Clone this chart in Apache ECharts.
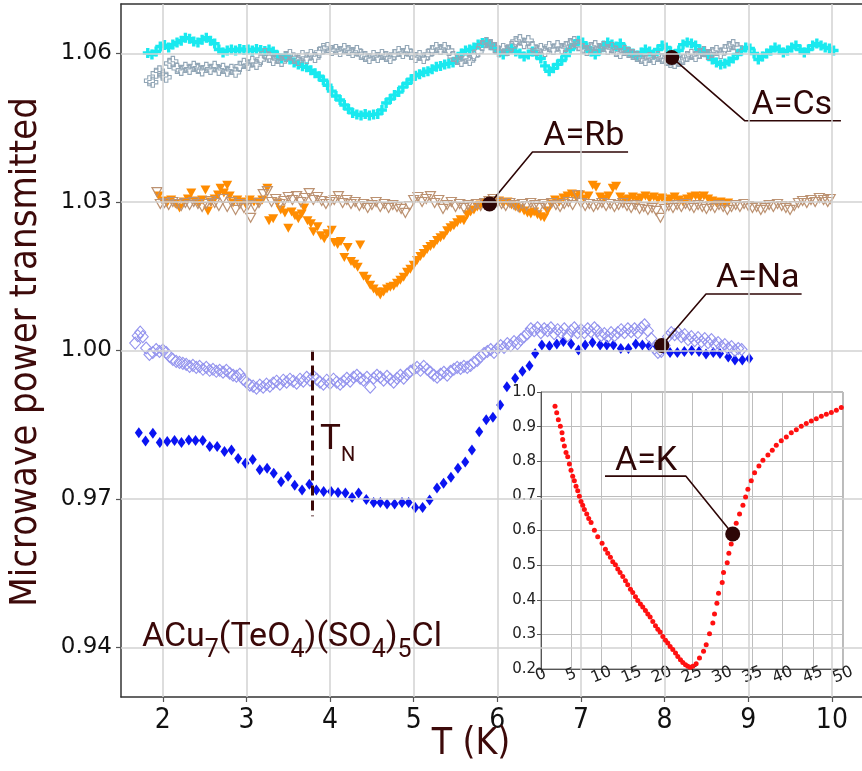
<!DOCTYPE html>
<html>
<head>
<meta charset="utf-8">
<script src="https://cdn.jsdelivr.net/npm/echarts@6/dist/echarts.min.js"></script>
<style>
  html, body { margin: 0; padding: 0; background: #fff; }
  #chart { width: 862px; height: 771px; }
</style>
</head>
<body>
<div id="chart"></div>
<script>
// tick labels
const xTicks = [2, 3, 4, 5, 6, 7, 8, 9, 10];
const yTicks = [0.94, 0.97, 1.00, 1.03, 1.06];

// A=Cs, filled crosses
const csFilled = [
  [1.82,1.0601],[1.87,1.0598],[1.92,1.0604],[1.97,1.0614],[2.02,1.0617],[2.07,1.0612],[2.12,1.0618],[2.17,1.0622],
  [2.22,1.0626],[2.27,1.0632],[2.32,1.0630],[2.37,1.0624],[2.42,1.0622],[2.47,1.0628],[2.52,1.0632],[2.57,1.0626],
  [2.62,1.0620],[2.67,1.0608],[2.72,1.0602],[2.77,1.0606],[2.82,1.0608],[2.87,1.0606],[2.92,1.0609],[2.97,1.0607],
  [3.02,1.0608],[3.07,1.0606],[3.12,1.0609],[3.17,1.0607],[3.22,1.0605],[3.27,1.0608],[3.32,1.0604],[3.37,1.0596],
  [3.42,1.0590],[3.47,1.0594],[3.52,1.0588],[3.57,1.0582],[3.62,1.0578],[3.67,1.0574],[3.72,1.0572],[3.77,1.0566],
  [3.82,1.0560],[3.87,1.0554],[3.92,1.0546],[3.97,1.0536],[4.02,1.0524],[4.07,1.0514],[4.12,1.0506],[4.17,1.0496],
  [4.22,1.0488],[4.27,1.0480],[4.32,1.0477],[4.37,1.0475],[4.42,1.0478],[4.47,1.0475],[4.52,1.0477],[4.57,1.0478],
  [4.62,1.0486],[4.67,1.0500],[4.72,1.0508],[4.77,1.0516],[4.82,1.0522],[4.87,1.0532],[4.92,1.0540],[4.97,1.0548],
  [5.02,1.0555],[5.07,1.0558],[5.12,1.0562],[5.17,1.0564],[5.22,1.0568],[5.27,1.0573],[5.32,1.0575],[5.37,1.0578],
  [5.42,1.0580],[5.47,1.0582],[5.52,1.0590],[5.57,1.0600],[5.62,1.0606],[5.67,1.0608],[5.72,1.0612],[5.77,1.0618],
  [5.82,1.0621],[5.87,1.0622],[5.92,1.0618],[5.97,1.0610],[6.02,1.0602],[6.07,1.0598],[6.12,1.0606],[6.17,1.0610],
  [6.22,1.0604],[6.27,1.0600],[6.32,1.0594],[6.37,1.0598],[6.42,1.0604],[6.47,1.0598],[6.52,1.0590],[6.57,1.0575],
  [6.62,1.0564],[6.67,1.0570],[6.72,1.0578],[6.77,1.0586],[6.82,1.0596],[6.87,1.0608],[6.92,1.0618],[6.97,1.0626],
  [7.02,1.0622],[7.07,1.0612],[7.12,1.0604],[7.17,1.0598],[7.22,1.0606],[7.27,1.0616],[7.32,1.0622],[7.37,1.0618],
  [7.42,1.0614],[7.47,1.0620],[7.52,1.0610],[7.57,1.0604],[7.62,1.0600],[7.67,1.0596],[7.72,1.0602],[7.77,1.0608],
  [7.82,1.0604],[7.87,1.0598],[7.92,1.0608],[7.97,1.0616],[8.02,1.0612],[8.07,1.0604],[8.12,1.0598],[8.17,1.0606],
  [8.22,1.0618],[8.27,1.0622],[8.32,1.0620],[8.37,1.0616],[8.42,1.0608],[8.47,1.0604],[8.52,1.0596],[8.57,1.0588],
  [8.62,1.0582],[8.67,1.0578],[8.72,1.0580],[8.77,1.0584],[8.82,1.0590],[8.87,1.0598],[8.92,1.0606],[8.97,1.0612],
  [9.02,1.0610],[9.07,1.0600],[9.12,1.0588],[9.17,1.0594],[9.22,1.0600],[9.27,1.0606],[9.32,1.0612],[9.37,1.0608],
  [9.42,1.0602],[9.47,1.0606],[9.52,1.0612],[9.57,1.0616],[9.62,1.0608],[9.67,1.0602],[9.72,1.0608],[9.77,1.0616],
  [9.82,1.0620],[9.87,1.0616],[9.92,1.0612],[9.97,1.0610],[10.02,1.0606]
];

// A=Cs, open crosses
const csOpen = [
  [1.84,1.0545],[1.88,1.0542],[1.92,1.0560],[1.96,1.0565],[2.00,1.0556],[2.04,1.0552],[2.08,1.0580],[2.12,1.0584],
  [2.17,1.0570],[2.22,1.0566],[2.27,1.0572],[2.32,1.0568],[2.37,1.0574],[2.42,1.0570],[2.47,1.0565],[2.52,1.0572],
  [2.57,1.0568],[2.62,1.0574],[2.67,1.0566],[2.72,1.0570],[2.77,1.0564],[2.82,1.0568],[2.87,1.0562],[2.92,1.0574],
  [2.97,1.0580],[3.02,1.0576],[3.07,1.0584],[3.12,1.0578],[3.17,1.0588],[3.22,1.0600],[3.27,1.0592],[3.32,1.0586],
  [3.37,1.0590],[3.42,1.0584],[3.47,1.0594],[3.52,1.0598],[3.57,1.0590],[3.62,1.0586],[3.67,1.0596],[3.72,1.0590],
  [3.77,1.0598],[3.82,1.0592],[3.87,1.0602],[3.92,1.0610],[3.97,1.0612],[4.02,1.0606],[4.07,1.0608],[4.12,1.0604],
  [4.17,1.0610],[4.22,1.0606],[4.27,1.0602],[4.32,1.0606],[4.37,1.0598],[4.42,1.0594],[4.47,1.0590],[4.52,1.0596],
  [4.57,1.0592],[4.62,1.0598],[4.67,1.0594],[4.72,1.0590],[4.77,1.0598],[4.82,1.0604],[4.87,1.0600],[4.92,1.0606],
  [4.97,1.0598],[5.02,1.0592],[5.07,1.0596],[5.12,1.0590],[5.17,1.0598],[5.22,1.0606],[5.27,1.0612],[5.32,1.0608],
  [5.37,1.0612],[5.42,1.0606],[5.47,1.0594],[5.52,1.0588],[5.57,1.0584],[5.62,1.0590],[5.67,1.0586],[5.72,1.0596],
  [5.77,1.0604],[5.82,1.0616],[5.87,1.0622],[5.92,1.0618],[5.97,1.0612],[6.02,1.0604],[6.07,1.0610],[6.12,1.0606],
  [6.17,1.0614],[6.22,1.0624],[6.27,1.0628],[6.32,1.0620],[6.37,1.0626],[6.42,1.0614],[6.47,1.0606],[6.52,1.0610],
  [6.57,1.0604],[6.62,1.0614],[6.67,1.0608],[6.72,1.0616],[6.77,1.0610],[6.82,1.0614],[6.87,1.0620],[6.92,1.0624],
  [6.97,1.0616],[7.02,1.0610],[7.07,1.0606],[7.12,1.0612],[7.17,1.0616],[7.22,1.0610],[7.27,1.0614],[7.32,1.0608],
  [7.37,1.0612],[7.42,1.0604],[7.47,1.0600],[7.52,1.0606],[7.57,1.0602],[7.62,1.0598],[7.67,1.0594],[7.72,1.0590],
  [7.77,1.0586],[7.82,1.0592],[7.87,1.0588],[7.92,1.0594],[7.97,1.0590],[8.02,1.0586],[8.07,1.0582],[8.12,1.0580],
  [8.17,1.0584],[8.22,1.0588],[8.27,1.0594],[8.32,1.0598],[8.37,1.0594],[8.42,1.0600],[8.47,1.0604],[8.52,1.0598],
  [8.57,1.0602],[8.62,1.0606],[8.67,1.0600],[8.72,1.0608],[8.77,1.0614],[8.82,1.0618],[8.87,1.0612]
];

// A=Rb, filled triangles
const rbFilled = [
  [1.95,1.0312],[2.00,1.0302],[2.05,1.0298],[2.10,1.0304],[2.15,1.0296],[2.20,1.0288],[2.25,1.0300],[2.30,1.0306],
  [2.34,1.0318],[2.38,1.0302],[2.43,1.0296],[2.47,1.0304],[2.51,1.0324],[2.54,1.0282],[2.58,1.0300],[2.62,1.0306],
  [2.66,1.0314],[2.69,1.0328],[2.73,1.0318],[2.77,1.0334],[2.80,1.0312],[2.84,1.0298],[2.89,1.0304],[2.94,1.0300],
  [2.99,1.0296],[3.04,1.0304],[3.09,1.0300],[3.14,1.0298],[3.19,1.0304],[3.25,1.0328],[3.27,1.0262],[3.32,1.0266],
  [3.37,1.0298],[3.41,1.0284],[3.46,1.0278],[3.50,1.0247],[3.54,1.0280],[3.58,1.0272],[3.62,1.0266],[3.66,1.0276],
  [3.69,1.0288],[3.73,1.0262],[3.77,1.0256],[3.80,1.0240],[3.85,1.0250],[3.89,1.0232],[3.93,1.0226],[3.97,1.0236],
  [4.02,1.0243],[4.05,1.0218],[4.09,1.0214],[4.13,1.0220],[4.17,1.0188],[4.21,1.0208],[4.25,1.0180],[4.29,1.0174],
  [4.33,1.0168],[4.36,1.0213],[4.40,1.0150],[4.44,1.0144],[4.48,1.0132],[4.52,1.0124],[4.56,1.0118],[4.60,1.0112],
  [4.64,1.0118],[4.68,1.0124],[4.72,1.0128],[4.76,1.0130],[4.80,1.0136],[4.84,1.0142],[4.88,1.0148],[4.92,1.0158],
  [4.96,1.0164],[5.00,1.0172],[5.04,1.0182],[5.08,1.0190],[5.12,1.0196],[5.16,1.0204],[5.20,1.0210],[5.24,1.0214],
  [5.28,1.0222],[5.32,1.0228],[5.36,1.0232],[5.40,1.0242],[5.44,1.0248],[5.48,1.0252],[5.52,1.0258],[5.56,1.0264],
  [5.60,1.0262],[5.64,1.0274],[5.68,1.0280],[5.72,1.0284],[5.76,1.0290],[5.80,1.0294],[5.84,1.0298],[5.88,1.0296],
  [5.92,1.0300],[5.97,1.0298],[6.02,1.0302],[6.07,1.0296],[6.12,1.0300],[6.17,1.0294],[6.22,1.0290],[6.27,1.0286],
  [6.32,1.0282],[6.36,1.0278],[6.40,1.0276],[6.44,1.0280],[6.48,1.0274],[6.52,1.0270],[6.56,1.0268],[6.60,1.0282],
  [6.64,1.0296],[6.69,1.0304],[6.74,1.0300],[6.79,1.0308],[6.84,1.0312],[6.89,1.0316],[6.94,1.0310],[6.99,1.0314],
  [7.04,1.0306],[7.09,1.0312],[7.14,1.0334],[7.18,1.0330],[7.23,1.0310],[7.28,1.0306],[7.33,1.0312],[7.38,1.0328],
  [7.42,1.0332],[7.47,1.0310],[7.52,1.0304],[7.57,1.0306],[7.62,1.0310],[7.67,1.0304],[7.72,1.0308],[7.77,1.0312],
  [7.82,1.0306],[7.87,1.0310],[7.92,1.0304],[7.97,1.0308],[8.02,1.0302],[8.07,1.0306],[8.12,1.0310],[8.17,1.0304],
  [8.22,1.0300],[8.27,1.0306],[8.32,1.0310],[8.37,1.0312],[8.42,1.0308],[8.47,1.0312],[8.52,1.0306],[8.57,1.0302],
  [8.62,1.0298],[8.67,1.0300],[8.72,1.0296],[8.76,1.0298]
];

// A=Rb, open triangles
const rbOpen = [
  [1.93,1.0320],[1.97,1.0296],[2.02,1.0298],[2.07,1.0294],[2.12,1.0300],[2.17,1.0296],[2.22,1.0292],[2.27,1.0298],
  [2.32,1.0294],[2.37,1.0300],[2.42,1.0296],[2.47,1.0290],[2.52,1.0296],[2.57,1.0302],[2.62,1.0298],[2.67,1.0292],
  [2.72,1.0306],[2.77,1.0290],[2.82,1.0300],[2.87,1.0284],[2.92,1.0296],[2.97,1.0288],[3.02,1.0294],[3.05,1.0268],
  [3.10,1.0290],[3.15,1.0298],[3.20,1.0316],[3.25,1.0322],[3.30,1.0300],[3.35,1.0306],[3.40,1.0296],[3.45,1.0302],
  [3.50,1.0310],[3.55,1.0304],[3.60,1.0312],[3.65,1.0300],[3.70,1.0308],[3.75,1.0318],[3.80,1.0304],[3.85,1.0310],
  [3.90,1.0302],[3.95,1.0296],[4.00,1.0300],[4.05,1.0304],[4.10,1.0312],[4.15,1.0298],[4.20,1.0304],[4.25,1.0296],
  [4.30,1.0300],[4.35,1.0292],[4.40,1.0296],[4.45,1.0288],[4.50,1.0294],[4.55,1.0300],[4.60,1.0290],[4.65,1.0296],
  [4.70,1.0288],[4.75,1.0294],[4.80,1.0290],[4.85,1.0286],[4.90,1.0278],[4.95,1.0292],[5.00,1.0304],[5.05,1.0310],
  [5.10,1.0300],[5.15,1.0306],[5.20,1.0312],[5.25,1.0298],[5.30,1.0304],[5.35,1.0286],[5.40,1.0294],[5.45,1.0300],
  [5.50,1.0290],[5.55,1.0296],[5.60,1.0288],[5.65,1.0294],[5.70,1.0290],[5.75,1.0296],[5.80,1.0292],[5.85,1.0298],
  [5.90,1.0302],[5.95,1.0306],[6.00,1.0300],[6.05,1.0296],[6.10,1.0292],[6.15,1.0298],[6.20,1.0294],[6.25,1.0290],
  [6.30,1.0296],[6.35,1.0292],[6.40,1.0298],[6.45,1.0294],[6.50,1.0288],[6.55,1.0296],[6.60,1.0292],[6.65,1.0298],
  [6.70,1.0294],[6.75,1.0290],[6.80,1.0296],[6.85,1.0300],[6.90,1.0294],[6.96,1.0314],[7.00,1.0298],[7.05,1.0292],
  [7.10,1.0296],[7.15,1.0290],[7.20,1.0294],[7.25,1.0298],[7.30,1.0292],[7.35,1.0296],[7.40,1.0290],[7.45,1.0294],
  [7.50,1.0298],[7.55,1.0292],[7.60,1.0288],[7.65,1.0294],[7.70,1.0286],[7.75,1.0290],[7.80,1.0284],[7.85,1.0288],
  [7.90,1.0282],[7.95,1.0268],[8.00,1.0286],[8.05,1.0292],[8.10,1.0288],[8.15,1.0294],[8.20,1.0290],[8.25,1.0296],
  [8.30,1.0292],[8.35,1.0288],[8.40,1.0294],[8.45,1.0290],[8.50,1.0286],[8.55,1.0292],[8.60,1.0288],[8.65,1.0294],
  [8.70,1.0290],[8.75,1.0284],[8.80,1.0290],[8.85,1.0294],[8.90,1.0290],[8.95,1.0296],[9.00,1.0292],[9.05,1.0288],
  [9.10,1.0290],[9.15,1.0284],[9.20,1.0288],[9.25,1.0294],[9.30,1.0290],[9.35,1.0296],[9.40,1.0292],[9.45,1.0288],
  [9.50,1.0284],[9.55,1.0292],[9.60,1.0298],[9.65,1.0302],[9.70,1.0298],[9.75,1.0304],[9.80,1.0300],[9.85,1.0308],
  [9.90,1.0304],[9.95,1.0300],[9.98,1.0306]
];

// A=Na, open diamonds
const naOpen = [
  [1.67,1.0015],[1.70,1.0030],[1.73,1.0037],[1.76,1.0028],[1.80,1.0005],[1.84,0.9992],[1.88,0.9996],[1.92,1.0002],
  [1.96,0.9998],[2.00,1.0001],[2.04,0.9996],[2.08,0.9988],[2.12,0.9982],[2.16,0.9978],[2.20,0.9976],[2.24,0.9974],
  [2.28,0.9972],[2.32,0.9968],[2.36,0.9970],[2.40,0.9966],[2.44,0.9968],[2.48,0.9962],[2.52,0.9966],[2.56,0.9960],
  [2.60,0.9962],[2.64,0.9958],[2.68,0.9960],[2.72,0.9956],[2.76,0.9960],[2.80,0.9954],[2.84,0.9950],[2.88,0.9948],
  [2.92,0.9952],[2.96,0.9942],[3.00,0.9936],[3.04,0.9930],[3.08,0.9928],[3.12,0.9924],[3.16,0.9930],[3.20,0.9926],
  [3.24,0.9932],[3.28,0.9928],[3.32,0.9934],[3.36,0.9938],[3.40,0.9932],[3.44,0.9940],[3.48,0.9936],[3.52,0.9942],
  [3.56,0.9938],[3.60,0.9934],[3.64,0.9942],[3.68,0.9938],[3.72,0.9946],[3.76,0.9940],[3.80,0.9948],[3.84,0.9942],
  [3.88,0.9936],[3.92,0.9932],[3.96,0.9940],[4.00,0.9934],[4.04,0.9942],[4.08,0.9936],[4.12,0.9932],[4.16,0.9938],
  [4.20,0.9944],[4.24,0.9938],[4.28,0.9946],[4.32,0.9950],[4.36,0.9944],[4.40,0.9940],[4.44,0.9946],[4.48,0.9926],
  [4.52,0.9944],[4.56,0.9950],[4.60,0.9946],[4.64,0.9940],[4.68,0.9948],[4.72,0.9942],[4.76,0.9936],[4.80,0.9944],
  [4.84,0.9950],[4.88,0.9944],[4.92,0.9952],[4.96,0.9958],[5.00,0.9962],[5.04,0.9966],[5.08,0.9960],[5.12,0.9968],
  [5.16,0.9962],[5.20,0.9956],[5.24,0.9950],[5.28,0.9946],[5.32,0.9952],[5.36,0.9956],[5.40,0.9950],[5.44,0.9958],
  [5.48,0.9962],[5.52,0.9966],[5.56,0.9964],[5.60,0.9968],[5.64,0.9966],[5.68,0.9970],[5.72,0.9976],[5.76,0.9980],
  [5.80,0.9988],[5.84,0.9994],[5.88,0.9998],[5.92,1.0002],[5.96,0.9996],[6.00,1.0004],[6.04,1.0010],[6.08,1.0006],
  [6.12,1.0014],[6.16,1.0010],[6.20,1.0018],[6.24,1.0014],[6.28,1.0022],[6.32,1.0028],[6.36,1.0034],[6.40,1.0044],
  [6.44,1.0040],[6.48,1.0046],[6.52,1.0036],[6.56,1.0044],[6.60,1.0040],[6.64,1.0046],[6.68,1.0034],[6.72,1.0042],
  [6.76,1.0036],[6.80,1.0044],[6.84,1.0030],[6.88,1.0040],[6.92,1.0046],[6.96,1.0036],[7.00,1.0042],[7.04,1.0036],
  [7.08,1.0044],[7.12,1.0038],[7.16,1.0046],[7.20,1.0040],[7.24,1.0030],[7.28,1.0034],[7.32,1.0028],[7.36,1.0036],
  [7.40,1.0030],[7.44,1.0036],[7.48,1.0042],[7.52,1.0036],[7.56,1.0044],[7.60,1.0038],[7.64,1.0044],[7.68,1.0036],
  [7.72,1.0046],[7.76,1.0052],[7.80,1.0040],[7.84,1.0024],[7.88,1.0004],[7.92,0.9996],[7.96,0.9998],[8.00,1.0010],
  [8.04,1.0028],[8.08,1.0036],[8.12,1.0032],[8.16,1.0036],[8.20,1.0028],[8.24,1.0032],[8.28,1.0022],[8.32,1.0028],
  [8.36,1.0020],[8.40,1.0026],[8.44,1.0018],[8.48,1.0024],[8.52,1.0016],[8.56,1.0022],[8.60,1.0012],[8.64,1.0016],
  [8.68,1.0008],[8.72,1.0012],[8.76,1.0004],[8.80,1.0008],[8.84,1.0000],[8.88,1.0004],[8.92,1.0002]
];

// A=Na, filled diamonds
const naFilled = [
  [1.713,0.9834],[1.793,0.9817],[1.881,0.9833],[1.964,0.9814],[2.053,0.9816],[2.140,0.9818],[2.223,0.9814],[2.311,0.9819],
  [2.391,0.9818],[2.478,0.9818],[2.561,0.9806],[2.650,0.9806],[2.737,0.9796],[2.821,0.9799],[2.901,0.9782],[2.988,0.9772],
  [3.075,0.9780],[3.159,0.9759],[3.247,0.9762],[3.326,0.9752],[3.414,0.9735],[3.498,0.9746],[3.577,0.9728],[3.665,0.9718],
  [3.752,0.9730],[3.836,0.9718],[3.923,0.9715],[4.012,0.9715],[4.095,0.9713],[4.183,0.9712],[4.263,0.9703],[4.341,0.9712],
  [4.433,0.9699],[4.521,0.9693],[4.601,0.9693],[4.681,0.9690],[4.771,0.9690],[4.860,0.9693],[4.939,0.9693],[5.019,0.9683],
  [5.106,0.9683],[5.190,0.9698],[5.278,0.9722],[5.357,0.9732],[5.445,0.9744],[5.529,0.9762],[5.616,0.9775],[5.696,0.9799],
  [5.783,0.9836],[5.867,0.9860],[5.947,0.9865],[6.034,0.9890],[6.114,0.9927],[6.213,0.9944],[6.300,0.9958],[6.384,0.9969],
  [6.452,0.9994],[6.532,1.0011],[6.623,1.0009],[6.711,1.0013],[6.790,1.0018],[6.882,1.0013],[6.970,1.0001],[7.050,1.0011],
  [7.137,1.0016],[7.229,1.0011],[7.309,1.0011],[7.388,1.0011],[7.476,1.0004],[7.567,1.0004],[7.655,1.0013],[7.734,1.0011],
  [7.814,1.0009],[7.906,1.0008],[7.985,1.0003],[8.065,0.9996],[8.152,0.9996],[8.236,0.9998],[8.324,1.0000],[8.411,0.9998],
  [8.495,0.9993],[8.582,0.9996],[8.662,0.9994],[8.761,0.9987],[8.841,0.9981],[8.929,0.9981],[9.012,0.9984]
];

// inset, A=K
const kPoints = [
  [2.32,0.959],[2.60,0.940],[2.87,0.920],[3.20,0.901],[3.48,0.882],[3.59,0.863],[3.87,0.844],[4.14,0.825],
  [4.42,0.813],[4.70,0.792],[4.97,0.774],[5.25,0.757],[5.52,0.744],[5.80,0.728],[6.08,0.715],[6.35,0.699],
  [6.63,0.684],[6.91,0.673],[7.18,0.661],[7.57,0.648],[7.90,0.635],[8.29,0.623],[8.84,0.601],[9.39,0.582],
  [10.11,0.563],[10.66,0.546],[11.05,0.534],[11.49,0.523],[11.88,0.510],[12.32,0.501],[12.71,0.489],[13.09,0.479],
  [13.54,0.467],[13.98,0.455],[14.36,0.443],[14.81,0.430],[15.19,0.421],[15.64,0.409],[16.02,0.398],[16.46,0.388],
  [16.85,0.379],[17.29,0.369],[17.68,0.359],[18.07,0.350],[18.51,0.337],[18.95,0.325],[19.34,0.315],[19.72,0.307],
  [20.17,0.294],[20.61,0.283],[20.99,0.275],[21.38,0.265],[21.82,0.256],[22.27,0.246],[22.65,0.236],[23.09,0.227],
  [23.48,0.219],[23.92,0.212],[24.31,0.208],[24.70,0.205],[25.14,0.208],[25.69,0.215],[26.24,0.232],[26.91,0.251],
  [27.35,0.270],[27.90,0.302],[28.45,0.333],[28.73,0.359],[29.12,0.390],[29.39,0.419],[30.00,0.450],[30.22,0.479],
  [30.83,0.507],[31.10,0.534],[31.49,0.561],[32.32,0.621],[32.87,0.648],[33.43,0.673],[33.87,0.697],[34.25,0.719],
  [34.81,0.744],[35.36,0.767],[36.08,0.786],[36.74,0.803],[37.57,0.818],[38.29,0.832],[38.95,0.846],[39.78,0.859],
  [40.61,0.870],[41.44,0.882],[42.27,0.891],[43.09,0.901],[43.92,0.909],[44.75,0.916],[45.58,0.923],[46.41,0.930],
  [47.24,0.936],[48.07,0.941],[48.90,0.947],[49.72,0.955]
];

// annotations: dot, elbow, end of leader line, text anchor (left, baseline)
const notes = [
  { grid: 0, label: 'A=Cs', dot: [8.085, 1.0592], elbow: [8.96, 1.0464], end: [10.108, 1.0464], text: [9.04, 1.0476] },
  { grid: 0, label: 'A=Rb', dot: [5.906, 1.0296], elbow: [6.42, 1.0401], end: [7.563, 1.0401], text: [6.55, 1.0413] },
  { grid: 0, label: 'A=Na', dot: [7.966, 1.0010], elbow: [8.495, 1.0114], end: [9.638, 1.0114], text: [8.614, 1.0126] },
  { grid: 1, label: 'A=K', dot: [31.74, 0.59], elbow: [24.0, 0.757], end: [10.6, 0.757], text: [12.25, 0.772] }
];
const tnLine = [[3.79, 1.0], [3.79, 0.9665]];
const tnText = [3.88, 0.9799];
const formulaPos = [1.75, 0.9401];

const brown = '#2e0606';
const plusPath = 'path://M3.3,0H6.7V3.3H10V6.7H6.7V10H3.3V6.7H0V3.3H3.3Z';
const triPath = 'path://M0,0H10L5,9Z';

const chart = echarts.init(document.getElementById('chart'));

const series = [
  {
    // grid lines of the main panel
    type: 'line', xAxisIndex: 0, yAxisIndex: 0, data: [], z: 1,
    markLine: {
      silent: true, symbol: 'none', animation: false,
      label: { show: false },
      lineStyle: { color: '#d2d2d2', width: 1.5, type: 'solid' },
      data: xTicks.map(v => ({ xAxis: v })).concat(yTicks.map(v => ({ yAxis: v })))
    }
  },
  { type: 'scatter', data: csFilled, symbol: plusPath, symbolSize: 10,
    itemStyle: { color: '#19e9ef', opacity: 1 }, z: 2 },
  { type: 'scatter', data: csOpen, symbol: plusPath, symbolSize: 10,
    itemStyle: { color: 'rgba(255,255,255,0)', borderColor: '#92a6b6', borderWidth: 1.1, opacity: 1 }, z: 2 },
  { type: 'scatter', data: rbFilled, symbol: triPath, symbolSize: [10, 9],
    itemStyle: { color: '#ff8c00', opacity: 1 }, z: 2 },
  { type: 'scatter', data: rbOpen, symbol: triPath, symbolSize: [10, 9],
    itemStyle: { color: 'rgba(255,255,255,0)', borderColor: '#bc9272', borderWidth: 1.2, opacity: 1 }, z: 2 },
  { type: 'scatter', data: naFilled, symbol: 'diamond', symbolSize: [8, 11],
    itemStyle: { color: '#0a14f2', opacity: 1 }, z: 2 },
  { type: 'scatter', data: naOpen, symbol: 'diamond', symbolSize: [11, 12],
    itemStyle: { color: 'rgba(255,255,255,0)', borderColor: '#9494ee', borderWidth: 1.1, opacity: 1 }, z: 2 },
  { type: 'line', data: tnLine, symbol: 'none', z: 3,
    lineStyle: { color: '#3a0808', width: 3, type: [10, 5] } },
  { type: 'scatter', xAxisIndex: 1, yAxisIndex: 1, data: kPoints, symbol: 'circle', symbolSize: 5,
    itemStyle: { color: '#ff1010', opacity: 1 }, z: 5 }
];

notes.forEach(n => {
  const idx = n.grid;
  series.push({
    type: 'line', xAxisIndex: idx, yAxisIndex: idx, data: [n.dot, n.elbow, n.end], symbol: 'none',
    lineStyle: { color: brown, width: 1.6 }, z: idx ? 6 : 3
  });
  series.push({
    type: 'scatter', xAxisIndex: idx, yAxisIndex: idx, data: [n.dot], symbol: 'circle', symbolSize: 15,
    itemStyle: { color: brown, opacity: 1 }, z: idx ? 7 : 4
  });
});

const mainX = { min: 1.5, max: 10.36 };
const frameLine = { show: true, lineStyle: { color: '#333', width: 1.5 } };

chart.setOption({
  animation: false,
  grid: [
    { left: 121, top: 4, right: 0, height: 693, show: false },
    { left: 541, top: 392, width: 302, height: 277, show: true, backgroundColor: '#fff',
      borderColor: '#777', borderWidth: 1, z: 3 }
  ],
  xAxis: [
    {
      type: 'value', gridIndex: 0, min: mainX.min, max: mainX.max, position: 'bottom',
      axisLine: frameLine, splitLine: { show: false },
      axisTick: { show: true, length: 5, lineStyle: { color: '#555', width: 1.2 }, customValues: xTicks },
      axisLabel: { customValues: xTicks, fontSize: 28, fontFamily: 'DejaVu Sans Condensed', color: '#111', margin: 10 }
    },
    {
      type: 'value', gridIndex: 1, min: 0, max: 50, interval: 5, z: 4,
      axisLine: { show: true, lineStyle: { color: '#555', width: 1 } },
      splitLine: { show: true, lineStyle: { color: '#bdbdbd', width: 1 } },
      axisTick: { show: true, length: 4, lineStyle: { color: '#555' } },
      axisLabel: { fontSize: 16, fontFamily: 'DejaVu Sans', color: '#222', rotate: 22, align: 'center', margin: 6 }
    },
    {
      // top frame line of the main panel
      type: 'value', gridIndex: 0, min: mainX.min, max: mainX.max, position: 'top',
      axisLine: frameLine, axisTick: { show: false }, axisLabel: { show: false }, splitLine: { show: false }
    }
  ],
  yAxis: [
    {
      type: 'value', gridIndex: 0, min: 0.93, max: 1.07,
      axisLine: frameLine, splitLine: { show: false },
      axisTick: { show: true, length: 5, lineStyle: { color: '#555', width: 1.2 }, customValues: yTicks },
      axisLabel: { customValues: yTicks, fontSize: 23, fontFamily: 'DejaVu Sans', color: '#111', margin: 9,
        formatter: v => v.toFixed(2) }
    },
    {
      type: 'value', gridIndex: 1, min: 0.2, max: 1.0, interval: 0.1, z: 4,
      axisLine: { show: true, lineStyle: { color: '#555', width: 1 } },
      splitLine: { show: true, lineStyle: { color: '#bdbdbd', width: 1 } },
      axisTick: { show: true, length: 4, lineStyle: { color: '#555' } },
      axisLabel: { fontSize: 15, fontFamily: 'DejaVu Sans', color: '#222', margin: 5,
        formatter: v => v.toFixed(1) }
    }
  ],
  series: series
});

// text placed from data coordinates
const toPx = (g, p) => chart.convertToPixel({ gridIndex: g }, p);
const graphics = [];

notes.forEach(n => {
  const p = toPx(n.grid, n.text);
  const size = 34;
  graphics.push({
    type: 'text', x: p[0], y: p[1] - 0.29 * size, z: 20,
    style: { text: n.label, font: size + 'px Roboto', fill: brown, textAlign: 'left', textVerticalAlign: 'middle' }
  });
});

const tp = toPx(0, tnText);
graphics.push({
  type: 'text', x: tp[0], y: tp[1] - 36, z: 20,
  style: {
    text: '{t|T}{n|N}', textAlign: 'left', textVerticalAlign: 'top',
    rich: {
      t: { fontSize: 35, fontFamily: 'Roboto', fill: '#3a0808', lineHeight: 52 },
      n: { fontSize: 20, fontFamily: 'Roboto', fill: '#3a0808', lineHeight: 20, verticalAlign: 'bottom' }
    }
  }
});

const fp = toPx(0, formulaPos);
graphics.push({
  type: 'text', x: fp[0], y: fp[1] - 36, z: 20,
  style: {
    text: '{m|ACu}{s|7}{m|(TeO}{s|4}{m|)(SO}{s|4}{m|)}{s|5}{m|Cl}', textAlign: 'left', textVerticalAlign: 'top',
    rich: {
      m: { fontSize: 34, fontFamily: 'Roboto', fill: '#3a0808', lineHeight: 52 },
      s: { fontSize: 25, fontFamily: 'Roboto', fill: '#3a0808', lineHeight: 24, verticalAlign: 'bottom' }
    }
  }
});

// axis titles
graphics.push({
  type: 'text', x: 26, y: 352, rotation: Math.PI / 2, z: 20,
  style: { text: 'Microwave power transmitted', font: '38px "DejaVu Sans Condensed"', fill: '#3d0a0a',
    textAlign: 'center', textVerticalAlign: 'middle' }
});
graphics.push({
  type: 'text', x: 471, y: 744, z: 20,
  style: { text: 'T (K)', font: '37px "DejaVu Sans Condensed"', fill: '#3d0a0a',
    textAlign: 'center', textVerticalAlign: 'middle' }
});

chart.setOption({ graphic: graphics });
</script>
</body>
</html>
